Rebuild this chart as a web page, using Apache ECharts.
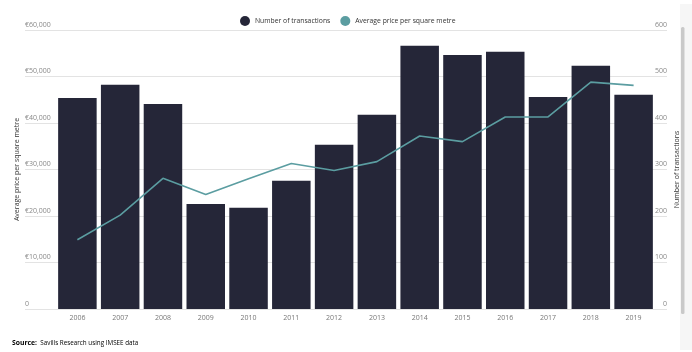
<!DOCTYPE html>
<html>
<head>
<meta charset="utf-8">
<script src="https://cdn.jsdelivr.net/npm/echarts@6/dist/echarts.min.js"></script>
<style>
html,body{margin:0;padding:0;background:#fff;}
#c{width:692px;height:352px;}
</style>
</head>
<body>
<div id="c"></div>
<script>
const years = ['2006','2007','2008','2009','2010','2011','2012','2013','2014','2015','2016','2017','2018','2019'];
const transactions = [454, 482, 441, 226, 218, 276, 353, 418, 566, 546, 553, 456, 523, 461];
const avgPrice = [14900, 20200, 28100, 24600, 28000, 31300, 29800, 31700, 37200, 36000, 41300, 41300, 48800, 48100];
const priceTicks = [0, 10000, 20000, 30000, 40000, 50000, 60000];
const countTicks = [0, 100, 200, 300, 400, 500, 600];

const FONT = 'Open Sans';
const chart = echarts.init(document.getElementById('c'));
const fmtPrice = v => v === 0 ? '0' : '€' + v.toLocaleString('en-US');

chart.setOption({
  animation: false,
  textStyle: { fontFamily: FONT },
  legend: {
    top: 11, left: 235,
    itemWidth: 10, itemHeight: 10, itemGap: 10,
    icon: 'circle',
    textStyle: { fontSize: 6.8, color: '#333', fontFamily: FONT },
    data: ['Number of transactions', 'Average price per square metre']
  },
  grid: [
    { left: 25, right: 25, top: 30, bottom: 43 },
    { left: 56, right: 37, top: 30, bottom: 43 }
  ],
  xAxis: [
    { type: 'category', gridIndex: 0, data: years, show: false },
    {
      type: 'category', gridIndex: 1, data: years,
      axisLine: { show: false },
      axisTick: { show: false },
      axisLabel: { color: '#777', fontSize: 7, margin: 5, fontFamily: FONT }
    }
  ],
  yAxis: [
    {
      type: 'value', gridIndex: 0, min: priceTicks[0], max: priceTicks[priceTicks.length-1], interval: 10000,
      name: 'Average price per square metre', nameLocation: 'middle', nameGap: 5, nameRotate: 90,
      nameMoveOverlap: false,
      nameTextStyle: { fontSize: 7, color: '#333', fontFamily: FONT },
      axisLine: { show: false }, axisTick: { show: false },
      splitLine: { lineStyle: { color: '#e3e3e3', width: 1 } },
      axisLabel: { inside: true, align: 'left', verticalAlign: 'bottom', margin: 0, padding: [0,0,2,0],
        color: '#888', fontSize: 7, fontFamily: FONT, formatter: fmtPrice }
    },
    {
      type: 'value', gridIndex: 0, position: 'right', min: countTicks[0], max: countTicks[countTicks.length-1], interval: 100,
      name: 'Number of transactions', nameLocation: 'middle', nameGap: 6, nameRotate: 90,
      nameMoveOverlap: false,
      nameTextStyle: { fontSize: 7, color: '#333', fontFamily: FONT },
      axisLine: { show: false }, axisTick: { show: false },
      splitLine: { show: false },
      axisLabel: { inside: true, align: 'right', verticalAlign: 'bottom', margin: 0, padding: [0,0,2,0],
        color: '#888', fontSize: 7, fontFamily: FONT }
    },
    { type: 'value', gridIndex: 1, min: 0, max: 60000, interval: 10000, show: false, splitLine: { show: false } },
    { type: 'value', gridIndex: 1, min: 0, max: 600, interval: 100, show: false, splitLine: { show: false } }
  ],
  graphic: [
    { type: 'rect', shape: { x: 680, y: 4, width: 12, height: 346 }, style: { fill: '#f6f6f6' }, silent: true },
    { type: 'rect', shape: { x: 681, y: 27, width: 3.5, height: 287, r: 1.5 }, style: { fill: '#c9c9c9' }, silent: true },
    {
      type: 'text', left: 12, top: 337,
      style: {
        text: '{b|Source:} {n|Savills Research using IMSEE data}',
        rich: {
          b: { fontSize: 6.8, fontWeight: 'bold', color: '#333', fontFamily: FONT },
          n: { fontSize: 6.3, color: '#555', fontFamily: FONT }
        }
      }
    }
  ],
  series: [
    {
      name: 'Number of transactions', type: 'bar',
      xAxisIndex: 1, yAxisIndex: 3,
      data: transactions, barCategoryGap: '10%',
      itemStyle: { color: '#252638' }
    },
    {
      name: 'Average price per square metre', type: 'line',
      xAxisIndex: 1, yAxisIndex: 2,
      data: avgPrice, symbol: 'none', showSymbol: false,
      lineStyle: { color: '#5b9da1', width: 1.6 },
      itemStyle: { color: '#5b9da1' }
    }
  ]
});
</script>
</body>
</html>
